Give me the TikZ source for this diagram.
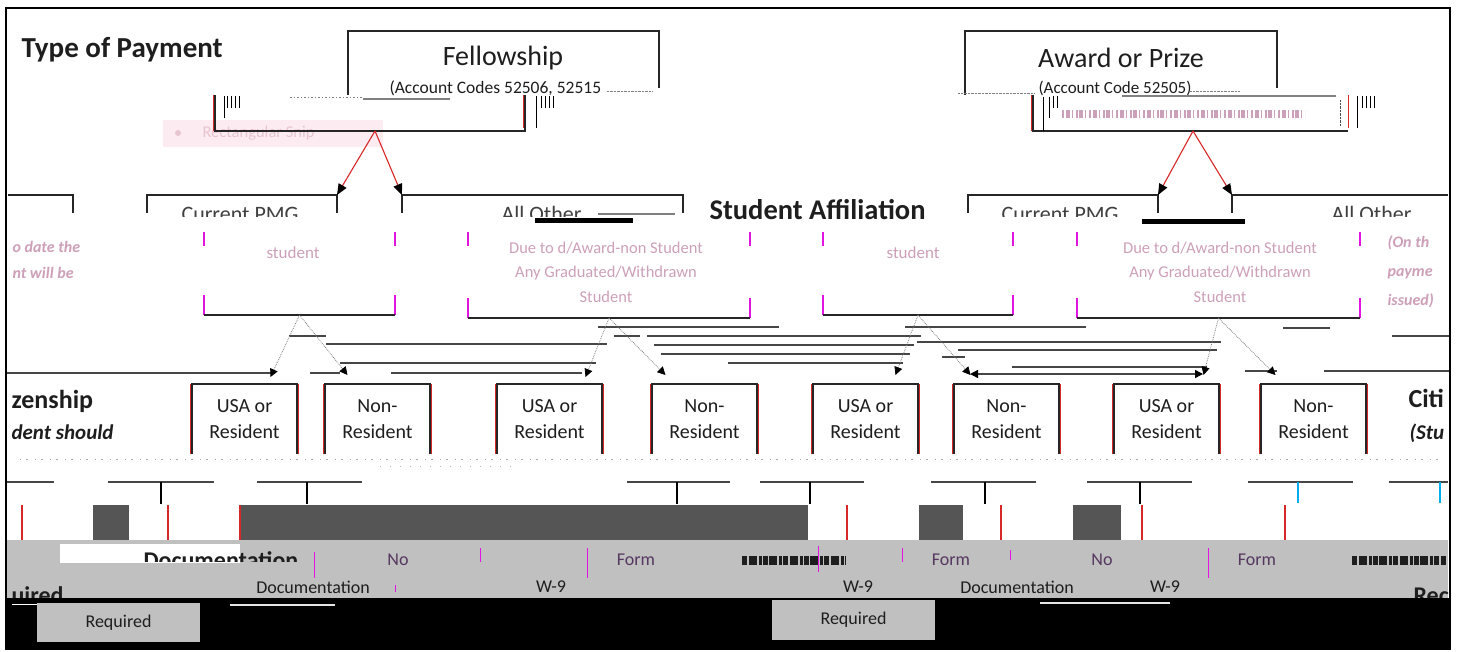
\documentclass[tikz,border=0pt]{standalone}
\usepackage{fontspec}
\setmainfont{Carlito}
\usetikzlibrary{arrows.meta,calc}
\definecolor{glitch}{RGB}{205,160,185}
\definecolor{magside}{RGB}{225,20,225}
\definecolor{redline}{RGB}{215,40,40}
\definecolor{band}{RGB}{192,192,192}
\definecolor{darkbar}{RGB}{85,85,85}
\definecolor{linegray}{RGB}{70,70,70}
\definecolor{txt}{RGB}{30,30,30}
\definecolor{purpletxt}{RGB}{85,55,95}
\definecolor{snipfill}{RGB}{252,236,242}
\definecolor{sniptxt}{RGB}{232,196,208}
\newcommand\fsz[2]{\fontsize{#1}{#2}\selectfont}
\begin{document}
\begin{tikzpicture}[x=1pt,y=-1pt,
  box/.style={inner sep=0pt, outer sep=0pt, anchor=north west},
  frameline/.style={line width=1.3pt, black!85},
  arr/.style={redline, line width=1.1pt, -{Triangle[length=11pt,width=9pt,color=black]}},
  arrtwo/.style={gray, densely dotted, line width=0.8pt, -{Triangle[length=8pt,width=8pt,color=black]}},
  hline/.style={linegray, line width=1.4pt},
  tickline/.style={black, line width=1.1pt},
  lthree/.style={box, minimum width=105pt, minimum height=70pt, align=center, font=\fsz{20}{26}, text=txt},
  bandtxt/.style={font=\fsz{18}{20}, text=txt},
  bandpur/.style={font=\fsz{18}{20}, text=purpletxt}]
\useasboundingbox (0,0) rectangle (1458,652);
\fill[white] (0,0) rectangle (1458,652);

% rectangular snip artefact
\node[box, fill=snipfill, minimum width=220pt, minimum height=27pt] (snip) at (163,120) {};
\fill[sniptxt] (178,133) circle (3pt);
\node[anchor=west, text=sniptxt, font=\fsz{16.5}{18}] (sniptext) at (199,133) {Rectangular Snip};

% title
\node[anchor=base west, font=\bfseries\fsz{29}{32}, text=txt] (title) at (18,58) {Type of Payment};

% Fellowship
\node[box, minimum width=311pt, minimum height=64pt] (fellow) at (348,31) {};
\draw[frameline] (fellow.south west) -- (fellow.north west) -- (fellow.north east) -- ([yshift=7pt]fellow.south east);
\node[font=\fsz{28}{32}, text=txt] (fellowT) at (503,58) {Fellowship};
\node[anchor=west, font=\fsz{17.5}{19}, text=txt] (fellowC) at (386,88) {(Account Codes 52506, 52515};
\draw[densely dotted, gray] ([xshift=2pt,yshift=-3pt]fellowC.east) -- ++(45,0);
\node[box, minimum width=310pt, minimum height=36pt] (fellowLow) at (215,95) {};
\draw[redline, line width=1pt] ([xshift=-1.5pt]fellowLow.north west) -- ([xshift=-1.5pt]fellowLow.south west);
\draw[redline, line width=1pt] ([xshift=-1.5pt]fellowLow.north east) -- ([xshift=-1.5pt,yshift=3pt]fellowLow.south east);
\draw[frameline] (fellowLow.north west) -- (fellowLow.south west) -- (fellowLow.south east) -- (fellowLow.north east);
\foreach \x in {227,231,235,239} \draw[line width=0.8pt] (\x,96) -- (\x,108);
\draw[line width=0.8pt] (224,96) -- (224,118);
\foreach \x in {541,545,549,553} \draw[line width=0.8pt] (\x,96) -- (\x,108);
\draw[line width=0.8pt] (536,96) -- (536,128);
\draw[gray, line width=1.5pt] (363,99) -- (450,99);
\draw[gray, dash pattern=on 2pt off 2pt on 1pt off 2pt] (290,97) -- (362,97);
\coordinate (fsrc) at ($(fellowLow.south west)+(160,0)$);

% Award
\node[box, minimum width=312pt, minimum height=64pt] (award) at (965,31) {};
\draw[frameline] (award.south west) -- (award.north west) -- (award.north east) -- ([yshift=7pt]award.south east);
\node[font=\fsz{28}{32}, text=txt] (awardT) at (1121,58) {Award or Prize};
\node[anchor=west, font=\fsz{17}{19}, text=txt] (awardC) at (1035,88) {(Account Code 52505)};
\draw[densely dotted, gray] (958,93) -- (1034,93);
\draw[densely dotted, gray] (1190,91) -- (1240,91);
\node[box, minimum width=315pt, minimum height=36pt] (awardLow) at (1033,95) {};
\draw[redline, line width=1pt] ([xshift=-1.5pt]awardLow.north west) -- ([xshift=-1.5pt]awardLow.south west);
\draw[redline, line width=1pt] (awardLow.north east) -- ([yshift=3pt]awardLow.south east);
\draw[frameline] (awardLow.north west) -- (awardLow.south west) -- (awardLow.south east);
\draw[gray, line width=1.2pt] (1122,96) -- (1336,96);
\draw[line width=0.9pt] (1043,97) -- (1043,131);
\draw[line width=0.9pt] (1049,97) -- (1049,118);
\foreach \x in {1053,1057} \draw[line width=0.8pt] (\x,96) -- (\x,108);
\draw[line width=0.9pt] (1357,96) -- (1357,128);
\foreach \x in {1362,1366,1370,1374} \draw[line width=0.8pt] (\x,96) -- (\x,108);
\draw[densely dotted, black!70] (1340,100) -- (1340,126);
\draw[glitch, line width=8pt, dash pattern=on 2pt off 1.5pt on 4pt off 2pt on 1pt off 3pt] (1062,114) -- (1305,114);
\coordinate (asrc) at ($(awardLow.south west)+(160,0)$);

% level 2 frames
\node[box, minimum width=65pt, minimum height=18pt] (fL) at (8,195) {};
\node[box, minimum width=190pt, minimum height=18pt] (fA) at (147,195) {};
\node[box, minimum width=281pt, minimum height=18pt] (fB) at (402,195) {};
\node[box, minimum width=190pt, minimum height=18pt] (aA) at (968,195) {};
\node[box, minimum width=216pt, minimum height=18pt] (aB) at (1232,195) {};
\draw[frameline] (fL.north west) -- (fL.north east) -- (fL.south east);
\foreach \n in {fA,fB,aA} \draw[frameline] (\n.south west) -- (\n.north west) -- (\n.north east) -- (\n.south east);
\draw[frameline] (aB.south west) -- (aB.north west) -- (aB.north east);
\draw[arr] (fsrc) -- (fA.north east);
\draw[arr] (fsrc) -- (fB.north west);
\draw[arr] (asrc) -- (aA.north east);
\draw[arr] (asrc) -- (aB.north west);

\begin{scope}
\clip (0,198) rectangle (1458,217);
\node[anchor=base west, font=\fsz{22}{24}, text=txt!85] (cpmgA) at (178,222) {Current PMG};
\node[anchor=base west, font=\fsz{22}{24}, text=txt!85] (othA) at (498,222) {All Other};
\node[anchor=base west, font=\fsz{22}{24}, text=txt!85] (cpmgB) at (998,222) {Current PMG};
\node[anchor=base west, font=\fsz{22}{24}, text=txt!85] (othB) at (1328,222) {All Other};
\end{scope}
\fill[black] (535,218) rectangle (633,223);
\fill[black] (1142,219) rectangle (1245,224);
\draw[gray, line width=1.2pt] (598,214) -- (675,214);
\node[anchor=base west, font=\bfseries\fsz{28.5}{31}, text=txt] (affil) at (706,220) {Student Affiliation};

% inner boxes
\node[box, minimum width=191pt, minimum height=83pt] (fsA) at (204,232) {};
\node[box, minimum width=282pt, minimum height=86pt] (fsB) at (468,232) {};
\node[box, minimum width=190pt, minimum height=83pt] (asA) at (823,232) {};
\node[box, minimum width=283pt, minimum height=86pt] (asB) at (1077,232) {};
\foreach \n in {fsA,fsB,asA,asB} {
  \draw[magside, line width=1.1pt] (\n.north west) -- ++(0,14);
  \draw[magside, line width=1.1pt] (\n.north east) -- ++(0,14);
  \draw[magside, line width=1.1pt] (\n.south west) -- ++(0,-20);
  \draw[magside, line width=1.1pt] (\n.south east) -- ++(0,-20);
  \draw[frameline] (\n.south west) -- (\n.south east);
}
\node[font=\fsz{17}{20}, text=glitch] (stA) at (293,253) {student};
\node[font=\fsz{17}{20}, text=glitch] (stC) at (913,253) {student};
\node[font=\fsz{16.5}{24.5}, text=glitch, align=center] (stB) at (606,272) {Due to d/Award-non Student\\Any Graduated/Withdrawn\\Student};
\node[font=\fsz{16.5}{24.5}, text=glitch, align=center] (stD) at (1220,272) {Due to d/Award-non Student\\Any Graduated/Withdrawn\\Student};
\node[anchor=west, font=\bfseries\itshape\fsz{16}{26}, text=glitch, align=left] (leftnote) at (9,260) {o date the\\nt will be};
\node[anchor=west, font=\bfseries\itshape\fsz{16}{29}, text=glitch, align=left] (rightnote) at (1384,272) {(On th\\payme\\issued)};

% level 3 boxes
\node[lthree] (usa1) at (192,384) {USA or\\Resident};
\node[lthree] (non1) at (325,384) {Non-\\Resident};
\node[lthree] (usa2) at (497,384) {USA or\\Resident};
\node[lthree] (non2) at (652,384) {Non-\\Resident};
\node[lthree] (usa3) at (813,384) {USA or\\Resident};
\node[lthree] (non3) at (954,384) {Non-\\Resident};
\node[lthree] (usa4) at (1114,384) {USA or\\Resident};
\node[lthree] (non4) at (1261,384) {Non-\\Resident};
\foreach \n in {usa1,non1,usa2,non2,usa3,non3,usa4,non4} {
  \draw[redline, line width=1pt] ([xshift=-1.8pt]\n.south west) -- ([xshift=-1.8pt]\n.north west);
  \draw[redline, line width=1pt] ([xshift=1.8pt]\n.south east) -- ([xshift=1.8pt]\n.north east);
  \draw[frameline] (\n.south west) -- (\n.north west) -- (\n.north east) -- (\n.south east);
}

% horizontal glitch lines
\foreach \a/\b/\y/\w in {598/779/327/1.2, 905/1086/327/1.2, 289/326/336/1.2, 614/640/336/1.2, 647/921/336/1.4,
  326/607/344/2.2, 917/1221/342/2.2, 654/914/345/1.4, 958/1217/350/1.4, 661/910/354/1.4,
  340/596/363/1.4, 728/903/363/1.4, 942/965/357/1.2, 1012/1207/367/1.4, 7/272/373/1.4, 310/340/373/1.4,
  391/582/373/1.4, 1245/1277/371/1.4, 1324/1450/371/1.4, 1283/1330/328/1.2, 1392/1450/336/1.2}
  \draw[hline, line width=\w pt] (\a,\y) -- (\b,\y);
\draw[hline, {Triangle[length=8pt,width=8pt,color=black]}-{Triangle[length=8pt,width=8pt,color=black]}] (970,374) -- (1203,374);

% level 3 connectors
\draw[arrtwo] (fsA.south) -- ([xshift=26pt,yshift=7pt]usa1.north);
\draw[arrtwo] (fsA.south) -- ([xshift=-30pt,yshift=9pt]non1.north);
\draw[arrtwo] (fsB.south) -- ([xshift=36pt,yshift=7pt]usa2.north);
\draw[arrtwo] (fsB.south) -- ([xshift=-39pt,yshift=9pt]non2.north);
\draw[arrtwo] (asA.south) -- ([xshift=30pt,yshift=9pt]usa3.north);
\draw[arrtwo] (asA.south) -- ([xshift=-36pt,yshift=9pt]non3.north);
\draw[arrtwo] (asB.south) -- ([xshift=37pt,yshift=9pt]usa4.north);
\draw[arrtwo] (asB.south) -- ([xshift=-38pt,yshift=9pt]non4.north);

% citizenship labels (fragments as printed)
\node[anchor=base west, font=\bfseries\fsz{26}{28}, text=txt] (citL) at (8,408) {zenship};
\node[anchor=base west, font=\bfseries\itshape\fsz{21}{24}, text=txt] (stuL) at (8,439) {dent should};
\node[anchor=base west, font=\bfseries\fsz{26}{28}, text=txt] (citR) at (1405,407) {Citi};
\node[anchor=base west, font=\bfseries\itshape\fsz{21}{24}, text=txt] (stuR) at (1406,439) {(Stu};
\draw[gray!70, dash pattern=on 1pt off 5pt on 2pt off 7pt] (20,459) -- (1440,459);
\draw[gray!60, dash pattern=on 1pt off 9pt] (380,466) -- (520,466);

% level 4 tree lines
\foreach \a/\b/\t in {108/214/161, 257/362/307, 627/730/677, 760/864/810, 931/1036/985, 1087/1192/1140} {
  \draw[hline] (\a,482) -- (\b,482);
  \draw[tickline] (\t,482) -- (\t,504);
}
\draw[hline] (7,482) -- (54,482);
\draw[hline] (1248,482) -- (1353,482);
\draw[cyan, line width=1.1pt] (1298,482) -- (1298,503);
\draw[hline] (1389,482) -- (1448,482);
\draw[cyan, line width=1.1pt] (1440,482) -- (1440,503);

% dark bars
\foreach \a/\b in {93/129, 240/808, 919/963, 1073/1121}
  \fill[darkbar] (\a,505) rectangle (\b,540);
\foreach \x in {22,168,240,847,1001,1142,1285}
  \draw[redline, line width=1.2pt] (\x,505) -- (\x,540);

% grey band
\fill[band] (7,540) rectangle (1448,598);
\fill[white] (60,544) rectangle (240,563);
\begin{scope}
\clip (60,540) rectangle (330,561);
\node[anchor=base west, font=\bfseries\fsz{24}{26}, text=txt] (docbig) at (140,568) {Documentation};
\end{scope}
\node[anchor=base west, font=\bfseries\fsz{24}{26}, text=txt] (reqL) at (8,603) {uired};
\node[anchor=base west, font=\bfseries\fsz{24}{26}, text=txt] (reqR) at (1410,603) {Rec};
\node[bandpur] (no1) at (398,560) {No};
\node[bandtxt] (doc1) at (313,587) {Documentation};
\node[bandpur] (form1) at (636,560) {Form};
\node[bandtxt] (w1) at (551,587) {W-9};
\node[bandtxt] (w2) at (858,587) {W-9};
\node[bandpur] (form2) at (951,560) {Form};
\node[bandpur] (no2) at (1102,560) {No};
\node[bandtxt] (doc2) at (1017,587) {Documentation};
\node[bandtxt] (w3) at (1165,587) {W-9};
\node[bandpur] (form3) at (1257,560) {Form};
\draw[txt, line width=9pt, dash pattern=on 5pt off 1.5pt on 8pt off 2pt on 3pt off 1pt] (742,560) -- (846,560);
\draw[txt, line width=9pt, dash pattern=on 5pt off 1.5pt on 8pt off 2pt on 3pt off 1pt] (1352,560) -- (1446,560);
\foreach \x/\a/\b in {314/552/578, 395/585/592, 480/548/562, 587/548/578, 818/546/572, 902/548/562, 1010/550/560, 1208/548/578}
  \draw[magside, line width=0.9pt] (\x,\a) -- (\x,\b);

% black bottom and required boxes
\fill[black] (5,598) rectangle (1451,650);
\draw[white, line width=1pt] (12,604) -- (40,604);
\draw[white!80!gray, line width=1.5pt] (230,605) -- (335,605);
\draw[white!80!gray, line width=1.5pt] (1040,603) -- (1170,603);
\node[box, fill=band, minimum width=163pt, minimum height=39pt, font=\fsz{18}{20}, text=txt] (req1) at (37,603) {Required};
\node[box, fill=band, minimum width=163pt, minimum height=40pt, font=\fsz{18}{20}, text=txt] (req2) at (772,600) {Required};

% outer frame
\draw[black, line width=2.6pt] (6,650) -- (6,8) -- (1450,8) -- (1450,650);
\end{tikzpicture}
\end{document}
